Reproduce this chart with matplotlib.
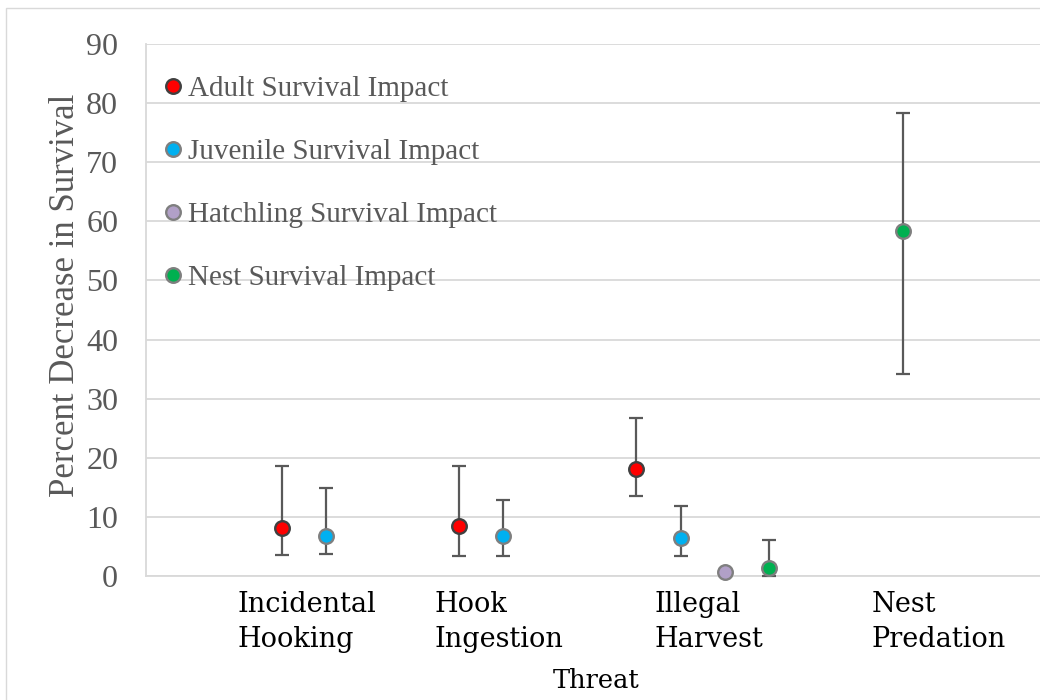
import numpy as np
import matplotlib.pyplot as plt
from matplotlib.lines import Line2D
from matplotlib.patches import Rectangle

# threat categories along the x axis (labels sit left-aligned at these x values)
threats = ["Incidental\nHooking", "Hook\nIngestion", "Illegal\nHarvest", "Nest\nPredation"]
threat_label_x = [0.0, 4.45, 9.4, 14.3]

# percent decrease in survival, with lower / upper bounds
adult_x = [1, 5, 9]
adult = [8.2, 8.5, 18.1]
adult_low = [3.6, 3.4, 13.5]
adult_high = [18.6, 18.6, 26.7]

juv_x = [2, 6, 10]
juv = [6.8, 6.8, 6.5]
juv_low = [3.7, 3.3, 3.3]
juv_high = [14.9, 12.8, 11.9]

hatch_x = [11]
hatch = [0.6]

nest_x = [12, 15]
nest = [1.4, 58.3]
nest_low = [0.0, 34.1]
nest_high = [6.1, 78.4]

GRID = "#D9D9D9"
TXT = "#595959"
ERR = "#595959"
MS = 10.5

fig = plt.figure(figsize=(10.4, 7), dpi=100)
fig.patch.set_facecolor("white")
fig.patches.append(Rectangle((6 / 1040, -0.1), 1.2, 1.1 - 8 / 700,
                             transform=fig.transFigure, fill=False,
                             edgecolor=GRID, lw=1.0))

ax = fig.add_axes([146 / 1040, 124 / 700, 1 - 146 / 1040, 532 / 700])

def draw(xs, ys, lo=None, hi=None, color="red", edge="#7F7F7F"):
    xs = np.array(xs, float)
    ys = np.array(ys, float)
    if lo is not None:
        yerr = [ys - np.array(lo), np.array(hi) - ys]
        ax.errorbar(xs, ys, yerr=yerr, fmt="none", ecolor=ERR, elinewidth=1.6,
                    capsize=5, capthick=1.6, zorder=3, clip_on=False)
    ax.plot(xs, ys, "o", ms=MS, mfc=color, mec=edge, mew=1.7,
            zorder=4, clip_on=False)

draw(adult_x, adult, adult_low, adult_high, "#FF0000", "#404040")
draw(juv_x, juv, juv_low, juv_high, "#00B0F0")
draw(hatch_x, hatch, color="#B1A0C7")
draw(nest_x, nest, nest_low, nest_high, "#00B050")

ax.set_ylim(0, 90)
ax.set_xlim(-2.06, 18.1)
ax.set_yticks(np.arange(0, 91, 10))
ax.yaxis.grid(True, color=GRID, lw=1.3)
ax.set_axisbelow(True)
for s in ["top", "right"]:
    ax.spines[s].set_visible(False)
for s in ["left", "bottom"]:
    ax.spines[s].set_color(GRID)
    ax.spines[s].set_linewidth(1.3)

ax.tick_params(axis="y", length=0, pad=20, labelcolor=TXT, labelsize=23)
for t in ax.get_yticklabels():
    t.set_fontfamily("Liberation Serif")

ax.set_xticks(threat_label_x)
ax.set_xticklabels(threats, ha="left", fontfamily="DejaVu Serif",
                   fontsize=19.5, color="black", linespacing=1.35)
ax.tick_params(axis="x", length=0, pad=11)

ax.set_ylabel("Percent Decrease in Survival", fontfamily="Liberation Serif",
              fontsize=25, color=TXT)
ax.yaxis.set_label_coords(-0.072, 0.528)
ax.set_xlabel("Threat", fontfamily="DejaVu Serif", fontsize=18.5, color="black")
ax.xaxis.set_label_coords(0.503, -0.172)
ax.xaxis.label.set_va("top")

handles = [
    Line2D([], [], ls="none", marker="o", ms=MS, mfc="#FF0000", mec="#404040", mew=1.7),
    Line2D([], [], ls="none", marker="o", ms=MS, mfc="#00B0F0", mec="#7F7F7F", mew=1.7),
    Line2D([], [], ls="none", marker="o", ms=MS, mfc="#B1A0C7", mec="#7F7F7F", mew=1.7),
    Line2D([], [], ls="none", marker="o", ms=MS, mfc="#00B050", mec="#7F7F7F", mew=1.7),
]
labels = ["Adult Survival Impact", "Juvenile Survival Impact",
          "Hatchling Survival Impact", "Nest Survival Impact"]
leg = ax.legend(handles, labels, loc="upper left", bbox_to_anchor=(0.0075, 0.963),
                frameon=False, handlelength=0.6, handletextpad=0.22,
                labelspacing=1.26, borderaxespad=0,
                prop={"family": "Liberation Serif", "size": 21})
for t in leg.get_texts():
    t.set_color(TXT)

fig.savefig("out.png", dpi=100, facecolor="white")
